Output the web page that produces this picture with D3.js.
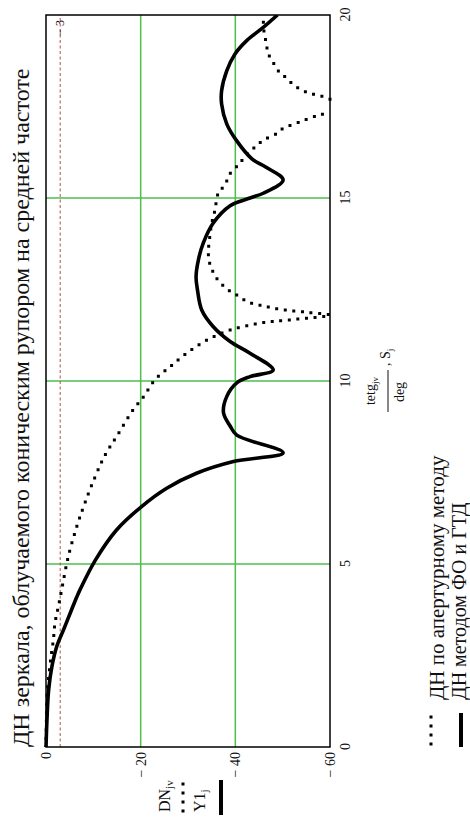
<!DOCTYPE html>
<html>
<head>
<meta charset="utf-8">
<script src="https://cdn.jsdelivr.net/npm/d3@7"></script>
<style>
  html, body { margin: 0; padding: 0; background: #fff; }
  svg { display: block; }
</style>
</head>
<body>
<svg id="chart" width="470" height="826"></svg>
<script>
// Angle (deg) and pattern level (dB) samples for the two radiation patterns
const thetaY1 = [0, 0.73, 1.55, 2.2, 2.76, 3.2, 3.75, 4.1, 4.3, 5.1, 5.93, 6.57, 7.07, 7.48, 7.8, 8.04,
  8.52, 8.77, 9.13, 9.58, 9.95, 10.12, 10.3, 10.76, 11.08, 11.49, 11.94, 12.49, 12.85, 13.31, 13.76,
  14.31, 14.79, 15.0, 15.13, 15.49, 15.84, 16.07, 16.56, 17.02, 17.57, 17.93, 18.48, 18.93, 19.3, 19.66, 20];
const valuesY1 = [0, -0.2, -0.55, -1.25, -2.3, -3.7, -5.4, -6.5, -7.2, -10.4, -14.9, -20.2, -25.5, -31.8, -39.6, -50.1,
  -40.3, -38.9, -37.5, -38.2, -40.3, -43.1, -48, -43.1, -38.9, -35.3, -32.9, -32.0, -31.7, -32.2, -33.2,
  -35.3, -38.9, -43.1, -45.9, -50.1, -46.5, -43.5, -40.3, -38.2, -37.1, -37.1, -38.2, -39.9, -42.4, -45.9, -48.9];

const thetaDN = [0, 0.8, 1.56, 1.83, 2.46, 2.92, 3.39, 3.83, 4.29, 5.2, 6.02, 6.66, 7.39, 7.98, 8.48, 9.21, 9.57,
  10.03, 10.39, 10.76, 11.12, 11.39, 11.58, 11.67, 11.8, 11.88, 11.95, 12.05, 12.15, 12.35, 12.49, 12.8, 13.21,
  13.49, 13.94, 14.3, 14.67, 15.13, 15.36, 15.67, 15.95, 16.08, 16.35, 16.58, 16.76, 16.9, 17.08, 17.26, 17.33,
  17.5, 17.7, 17.81, 17.86, 17.95, 18.1, 18.28, 18.42, 18.7, 18.93, 19.16, 19.39, 19.6, 19.87, 20];
const valuesDN = [0, -0.1, -0.3, -0.5, -1.05, -1.55, -1.9, -2.6, -3.3, -4.7, -6.5, -8.2, -10.4, -12.5, -14.9, -18.4, -20.6,
  -23.0, -26.2, -29.7, -34.0, -38.9, -45.2, -51.5, -60, -55, -50, -46, -42.8, -40.3, -38.5, -36.1, -34.6,
  -34.3, -34.6, -35.0, -35.7, -36.4, -37.8, -38.9, -41, -41.7, -43.8, -45.9, -48.7, -50.1, -53.7, -57.5, -60,
  null, -60, -57.5, -55.8, -54, -52.2, -50.8, -49.4, -48, -47, -46.6, -46.3, -46, -45.9, -45.8];

// Axis ticks and reference level
const angleTicks = [0, 5, 10, 15, 20];
const levelTicks = [0, -20, -40, -60];
const gridAngles = [5, 10, 15];
const gridLevels = [-20, -40];
const markerLevel = [-3];

const titleText = "ДН зеркала, облучаемого коническим рупором на средней частоте";
const legendLabels = ["ДН по апертурному методу", "ДН методом ФО и ГТД"];

const serif = "Liberation Serif, DejaVu Serif, serif";
const svg = d3.select("#chart");
// The whole plot is laid out in a frame turned a quarter turn counter-clockwise
const g = svg.append("g")
  .attr("transform", "translate(0,826) rotate(-90)")
  .attr("font-family", serif).attr("fill", "#111");

const x = d3.scaleLinear().domain([0, 20]).range([79, 811]);
const y = d3.scaleLinear().domain([0, -60]).range([46, 330]);

// grid
g.append("g").selectAll("line").data(gridAngles).join("line")
  .attr("x1", d => x(d)).attr("x2", d => x(d))
  .attr("y1", y(0)).attr("y2", y(-60))
  .attr("stroke", "#4cbf4c").attr("stroke-width", 1.5);
g.append("g").selectAll("line").data(gridLevels).join("line")
  .attr("x1", x(0)).attr("x2", x(20))
  .attr("y1", d => y(d)).attr("y2", d => y(d))
  .attr("stroke", "#4cbf4c").attr("stroke-width", 1.5);

// -3 dB marker
g.append("g").selectAll("line").data(markerLevel).join("line")
  .attr("x1", x(0)).attr("x2", x(20))
  .attr("y1", d => y(d)).attr("y2", d => y(d))
  .attr("stroke", "#b0504a").attr("stroke-width", 1).attr("stroke-dasharray", "3,2.5");
g.append("g").selectAll("text").data(markerLevel).join("text")
  .attr("x", x(20) - 5).attr("y", d => y(d)).attr("dy", "0.35em")
  .attr("text-anchor", "end").attr("font-size", 12)
  .text(d => "− " + Math.abs(d));

// curves
const clip = g.append("clipPath").attr("id", "plotclip");
clip.append("rect").attr("x", x(0)).attr("y", y(0) - 2)
  .attr("width", x(20) - x(0)).attr("height", y(-60) - y(0) + 4);

const line = d3.line()
  .defined(d => d[1] !== null)
  .x(d => x(d[0])).y(d => y(d[1]))
  .curve(d3.curveCatmullRom.alpha(0.5));

const dnData = thetaDN.map((t, i) => [t, valuesDN[i]]);
const y1Data = thetaY1.map((t, i) => [t, valuesY1[i]]);

const curves = g.append("g").attr("clip-path", "url(#plotclip)");
curves.append("path").datum(dnData).attr("d", line)
  .attr("fill", "none").attr("stroke", "#000").attr("stroke-width", 3)
  .attr("stroke-linecap", "square").attr("stroke-dasharray", "0,8.6");
curves.append("path").datum(y1Data).attr("d", line)
  .attr("fill", "none").attr("stroke", "#000").attr("stroke-width", 3.6)
  .attr("stroke-linejoin", "round");

// frame
g.append("rect").attr("x", x(0)).attr("y", y(0))
  .attr("width", x(20) - x(0)).attr("height", y(-60) - y(0))
  .attr("fill", "none").attr("stroke", "#000").attr("stroke-width", 1.5);

// axes
const fmt = d => d < 0 ? "− " + Math.abs(d) : String(d);
const axL = g.append("g").attr("transform", `translate(${x(0)},0)`)
  .call(d3.axisLeft(y).tickValues(levelTicks).tickSize(0).tickPadding(5).tickFormat(fmt));
const axB = g.append("g").attr("transform", `translate(0,${y(-60)})`)
  .call(d3.axisBottom(x).tickValues(angleTicks).tickSize(0).tickPadding(10).tickFormat(d3.format("d")));
[axL, axB].forEach(a => {
  a.attr("font-family", serif).attr("font-size", 14);
  a.select(".domain").remove();
  a.selectAll("text").attr("fill", "#111");
});

// title
g.append("text").attr("x", x(0)).attr("y", 29).attr("font-size", 24).text(titleText);

// x-axis label: tetg_jv / deg , S_j
const xl = g.append("g");
const num = xl.append("text").attr("x", 435).attr("y", 375).attr("text-anchor", "middle").attr("font-size", 14);
num.append("tspan").text("tetg");
num.append("tspan").attr("font-size", 9).attr("dy", 3).text("jv");
xl.append("line").attr("x1", 414).attr("x2", 456).attr("y1", 388).attr("y2", 388)
  .attr("stroke", "#111").attr("stroke-width", 1);
xl.append("text").attr("x", 434).attr("y", 404).attr("text-anchor", "middle").attr("font-size", 14).text("deg");
const sj = xl.append("text").attr("x", 460).attr("y", 390).attr("font-size", 14);
sj.append("tspan").text(", S");
sj.append("tspan").attr("font-size", 9).attr("dy", 3).text("j");

// y-axis label with trace samples
const yl = g.append("g");
const dnl = yl.append("text").attr("x", 14).attr("y", 170).attr("font-size", 16);
dnl.append("tspan").text("DN");
dnl.append("tspan").attr("font-size", 11).attr("dy", 3).text("jv");
yl.append("line").attr("x1", 15).attr("x2", 44).attr("y1", 183).attr("y2", 183)
  .attr("stroke", "#000").attr("stroke-width", 3).attr("stroke-linecap", "square").attr("stroke-dasharray", "0,9");
const y1l = yl.append("text").attr("x", 14).attr("y", 205).attr("font-size", 16);
y1l.append("tspan").text("Y1");
y1l.append("tspan").attr("font-size", 11).attr("dy", 3).text("j");
yl.append("line").attr("x1", 11).attr("x2", 46).attr("y1", 221).attr("y2", 221)
  .attr("stroke", "#000").attr("stroke-width", 4);

// legend
const leg = g.append("g");
leg.append("line").attr("x1", 82).attr("x2", 110).attr("y1", 431).attr("y2", 431)
  .attr("stroke", "#000").attr("stroke-width", 3).attr("stroke-linecap", "square").attr("stroke-dasharray", "0,9");
leg.append("text").attr("x", 126).attr("y", 444).attr("font-size", 21).text(legendLabels[0]);
leg.append("line").attr("x1", 79).attr("x2", 113).attr("y1", 461).attr("y2", 461)
  .attr("stroke", "#000").attr("stroke-width", 4);
leg.append("text").attr("x", 126).attr("y", 466).attr("font-size", 20).text(legendLabels[1]);
</script>
</body>
</html>
